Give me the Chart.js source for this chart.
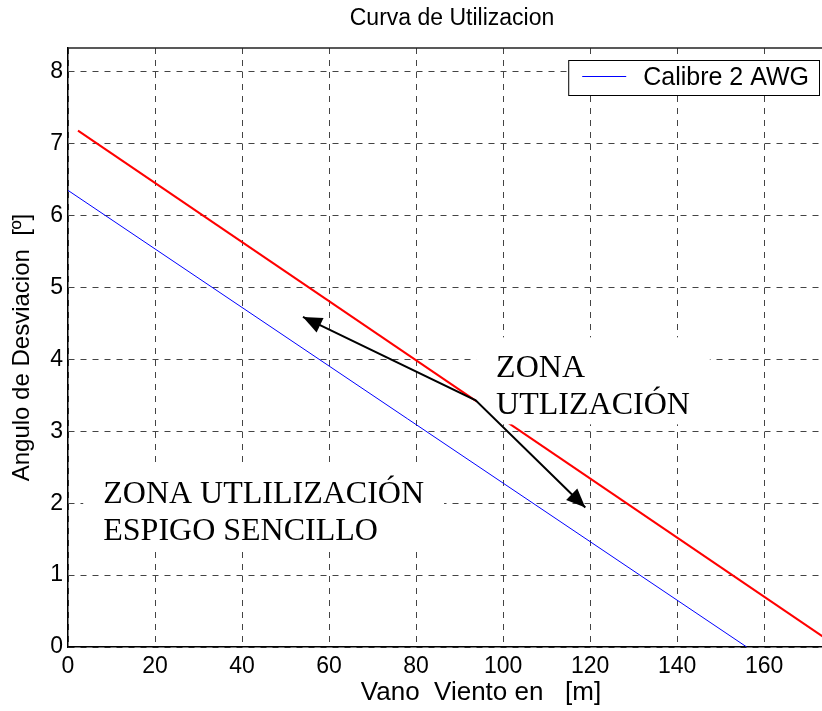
<!DOCTYPE html>
<html>
<head>
<meta charset="utf-8">
<script src="https://cdn.jsdelivr.net/npm/chart.js@4.4.0/dist/chart.umd.min.js"></script>
<style>
  html, body { margin: 0; padding: 0; background: #fff; }
  #wrap { width: 822px; height: 711px; }
</style>
</head>
<body>
<div id="wrap"><canvas id="myChart" width="822" height="711"></canvas></div>
<script>
// values
var xTicks = [0, 20, 40, 60, 80, 100, 120, 140, 160];
var yTicks = [0, 1, 2, 3, 4, 5, 6, 7, 8];

var calibreX = [0, 156];
var calibreY = [6.35, 0];

var limiteX = [2.3, 177];
var limiteY = [7.18, 0];

var flechaX = [54, 93.7, 118.9];
var flechaY = [4.59, 3.43, 1.94];

var zona1Texto = ['ZONA UTLILIZACIÓN', 'ESPIGO SENCILLO'];
var zona1Pos = [8.1, 2.0];
var zona2Texto = ['ZONA', 'UTLIZACIÓN'];
var zona2Pos = [98.4, 3.75];

var SANS = '"Liberation Sans", Arial, sans-serif';
var SERIF = '"Liberation Serif", "Times New Roman", serif';
var ZONA_FONT = '32px ' + SERIF;

function pts(xs, ys) {
  return xs.map(function(x, i) { return {x: x, y: ys[i]}; });
}

function zonaBox(chart, lines, pos) {
  var ctx = chart.ctx;
  ctx.font = ZONA_FONT;
  var w = 0;
  lines.forEach(function(t) { w = Math.max(w, ctx.measureText(t).width); });
  return {
    x: chart.scales.x.getPixelForValue(pos[0]),
    y: chart.scales.y.getPixelForValue(pos[1]),
    w: w
  };
}

function arrowHead(ctx, fx, fy, tx, ty) {
  var a = Math.atan2(ty - fy, tx - fx);
  var len = 19, half = 8;
  ctx.beginPath();
  ctx.moveTo(tx, ty);
  ctx.lineTo(tx - len * Math.cos(a) + half * Math.sin(a), ty - len * Math.sin(a) - half * Math.cos(a));
  ctx.lineTo(tx - len * Math.cos(a) - half * Math.sin(a), ty - len * Math.sin(a) + half * Math.cos(a));
  ctx.closePath();
  ctx.fill();
}

var zonas = {
  id: 'zonas',
  beforeDraw: function(chart) {
    var ctx = chart.ctx;
    ctx.save();
    ctx.fillStyle = '#fff';
    ctx.fillRect(0, 0, chart.width, chart.height);
    ctx.restore();
  },
  afterDatasetDraw: function(chart, args) {
    // white text boxes sit above the red line, below the arrows
    if (args.index !== 2) return;
    var ctx = chart.ctx;
    ctx.save();
    ctx.fillStyle = '#fff';
    [[zona1Texto, zona1Pos], [zona2Texto, zona2Pos]].forEach(function(z) {
      var b = zonaBox(chart, z[0], z[1]);
      ctx.fillRect(b.x - 20, b.y - 40, b.w + 40, 37 * (z[0].length - 1) + 50);
    });
    ctx.restore();
  },
  afterDatasetsDraw: function(chart) {
    var ctx = chart.ctx;
    var sx = chart.scales.x, sy = chart.scales.y;
    ctx.save();
    ctx.fillStyle = '#000';
    var n = flechaX.length;
    arrowHead(ctx, sx.getPixelForValue(flechaX[1]), sy.getPixelForValue(flechaY[1]),
      sx.getPixelForValue(flechaX[0]), sy.getPixelForValue(flechaY[0]));
    arrowHead(ctx, sx.getPixelForValue(flechaX[n - 2]), sy.getPixelForValue(flechaY[n - 2]),
      sx.getPixelForValue(flechaX[n - 1]), sy.getPixelForValue(flechaY[n - 1]));

    ctx.font = ZONA_FONT;
    ctx.textAlign = 'left';
    ctx.textBaseline = 'alphabetic';
    [[zona1Texto, zona1Pos], [zona2Texto, zona2Pos]].forEach(function(z) {
      var b = zonaBox(chart, z[0], z[1]);
      z[0].forEach(function(t, i) { ctx.fillText(t, b.x, b.y + i * 37); });
    });
    ctx.restore();
  },
  afterDraw: function(chart) {
    var ctx = chart.ctx, area = chart.chartArea;
    // the axes run on a little past the right edge of the picture
    var axesRight = area.right + 14;
    var mid = (area.left + axesRight) / 2;
    ctx.save();
    // box line on top
    ctx.strokeStyle = '#222';
    ctx.lineWidth = 1.5;
    ctx.beginPath();
    ctx.moveTo(area.left, area.top);
    ctx.lineTo(area.right, area.top);
    ctx.stroke();

    // title and x label
    ctx.fillStyle = '#000';
    ctx.textAlign = 'center';
    ctx.textBaseline = 'middle';
    ctx.font = '23px ' + SANS;
    ctx.fillText('Curva de Utilizacion', mid, 19);
    ctx.font = '26px ' + SANS;
    ctx.fillText('Vano  Viento en   [m]', mid + 29, 693);

    // legend box, upper right inside the axes
    var ds = chart.data.datasets[0];
    ctx.font = '25px ' + SANS;
    var tw = ctx.measureText(ds.label).width;
    var bw = 14 + 44 + 17 + tw + 10, bh = 35;
    var bx = axesRight - 17 - bw, by = area.top + 12;
    ctx.fillStyle = '#fff';
    ctx.fillRect(bx, by, bw, bh);
    ctx.strokeStyle = '#000';
    ctx.lineWidth = 1;
    ctx.strokeRect(bx + 0.5, by + 0.5, bw, bh);
    ctx.strokeStyle = ds.borderColor;
    ctx.beginPath();
    ctx.moveTo(bx + 14, by + 16.5);
    ctx.lineTo(bx + 58, by + 16.5);
    ctx.stroke();
    ctx.fillStyle = '#000';
    ctx.textAlign = 'left';
    ctx.fillText(ds.label, bx + 75, by + bh / 2 + 1);
    ctx.restore();
  }
};

var ctx = document.getElementById('myChart').getContext('2d');
var myChart = new Chart(ctx, {
  type: 'line',
  data: {
    datasets: [{
      label: 'Calibre 2 AWG',
      data: pts(calibreX, calibreY),
      borderColor: '#0000ff',
      borderWidth: 1
    },
    {
      label: 'flechas',
      data: pts(flechaX, flechaY),
      borderColor: '#000000',
      borderWidth: 2
    },
    {
      label: 'limite',
      data: pts(limiteX, limiteY),
      borderColor: '#ff0000',
      borderWidth: 2
    }]
  },
  options: {
    responsive: false,
    animation: false,
    layout: { padding: { top: 48, right: 0, bottom: 0, left: 0 } },
    elements: {
      point: { radius: 0 },
      line: { tension: 0, fill: false }
    },
    plugins: {
      legend: { display: false },
      title: { display: false },
      tooltip: { enabled: false }
    },
    scales: {
      x: {
        type: 'linear',
        min: 0,
        max: 173.3,
        afterBuildTicks: function(s) { s.ticks = xTicks.map(function(v) { return {value: v}; }); },
        afterFit: function(s) { s.height = 64; },
        grid: { color: '#444', lineWidth: 1, drawTicks: false },
        border: { display: true, color: '#000', width: 1.5, dash: [6, 6] },
        ticks: { color: '#000', font: { family: SANS, size: 23 }, padding: 6, maxRotation: 0 }
      },
      y: {
        type: 'linear',
        min: 0,
        max: 8.33,
        afterBuildTicks: function(s) { s.ticks = yTicks.map(function(v) { return {value: v}; }); },
        afterFit: function(s) { s.width = 68; },
        grid: { color: '#444', lineWidth: 1, drawTicks: false },
        border: { display: true, color: '#000', width: 1.5, dash: [6, 6] },
        ticks: { color: '#000', font: { family: SANS, size: 23 }, padding: 5 },
        title: {
          display: true,
          text: 'Angulo de Desviacion  [º]',
          color: '#000',
          font: { family: SANS, size: 24 },
          padding: { top: 8, bottom: 0 }
        }
      }
    }
  },
  plugins: [zonas]
});
</script>
</body>
</html>
